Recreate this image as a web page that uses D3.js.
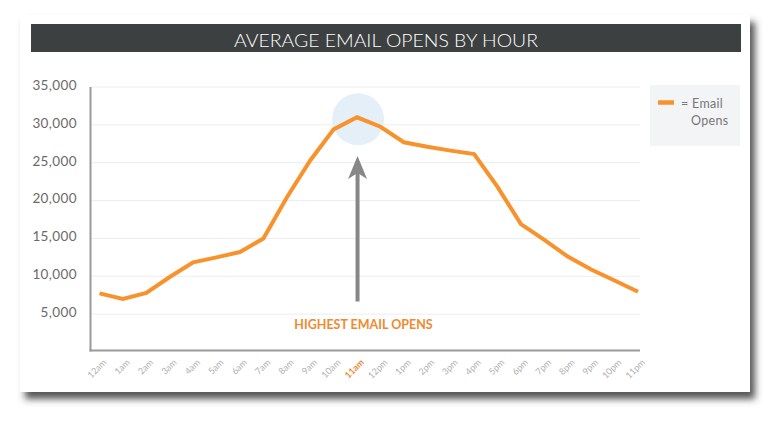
<!DOCTYPE html>
<html>
<head>
<meta charset="utf-8">
<script src="https://cdn.jsdelivr.net/npm/d3@7"></script>
<style>
  html, body { margin: 0; padding: 0; background: #ffffff; }
  svg { display: block; }
</style>
</head>
<body>
<svg id="chart" width="770" height="424"></svg>
<script>
const title = "AVERAGE EMAIL OPENS BY HOUR";
const hours = ["12am","1am","2am","3am","4am","5am","6am","7am","8am","9am","10am","11am",
               "12pm","1pm","2pm","3pm","4pm","5pm","6pm","7pm","8pm","9pm","10pm","11pm"];
const emailOpens = [7750, 7000, 7800, 9900, 11850, 12500, 13200, 15000, 20400, 25300, 29400, 31000,
                    29750, 27700, 27100, 26600, 26150, 21800, 16900, 14800, 12600, 10900, 9450, 7950];
const yTicks = [5000, 10000, 15000, 20000, 25000, 30000, 35000];
const seriesName = ["= Email", "Opens"];
const peakHour = "11am";
const annotation = "HIGHEST EMAIL OPENS";

const orange = "#f7922d";
const svg = d3.select("#chart");
const font = "Lato, 'Open Sans', sans-serif";

// drop shadow
const defs = svg.append("defs");
const f = defs.append("filter").attr("id", "shadow").attr("x", "-5%").attr("y", "-5%").attr("width", "115%").attr("height", "120%");
f.append("feDropShadow").attr("dx", 5).attr("dy", 7).attr("stdDeviation", 3.5)
  .attr("flood-color", "#3a3a3a").attr("flood-opacity", 0.85);

// card
svg.append("rect").attr("x", 20).attr("y", 15).attr("width", 730).attr("height", 377)
  .attr("fill", "#ffffff").attr("filter", "url(#shadow)");

// title bar
svg.append("rect").attr("x", 31).attr("y", 24).attr("width", 710).attr("height", 28)
  .attr("fill", "#3c4040");
svg.append("text").attr("x", 386).attr("y", 46.5).attr("text-anchor", "middle")
  .attr("font-family", font).attr("font-weight", 300).attr("font-size", 17)
  .attr("fill", "#ffffff").attr("textLength", 304).attr("lengthAdjust", "spacingAndGlyphs")
  .text(title);

// scales
const x = d3.scalePoint().domain(hours).range([99.5, 638]);
const y = d3.scaleLinear().domain([0, 35000]).range([352, 87]);
const plotLeft = 91, plotRight = 640;

// gridlines
svg.append("g").selectAll("line").data(yTicks).join("line")
  .attr("x1", plotLeft).attr("x2", plotRight)
  .attr("y1", d => y(d)).attr("y2", d => y(d))
  .attr("stroke", "#ededed").attr("stroke-width", 1);

// y axis labels
const yAxis = d3.axisLeft(y).tickValues(yTicks).tickFormat(d3.format(",")).tickSize(0).tickPadding(0);
const gy = svg.append("g").attr("transform", "translate(77,-2)").call(yAxis);
gy.select(".domain").remove();
gy.selectAll("text").attr("font-family", font).attr("font-size", 13.5)
  .attr("fill", "#6a6a6a").attr("letter-spacing", 0.4);

// axes lines
svg.append("line").attr("x1", 90.5).attr("x2", 90.5).attr("y1", 87).attr("y2", 351.5)
  .attr("stroke", "#9a9a9a").attr("stroke-width", 2);
svg.append("line").attr("x1", 89.5).attr("x2", plotRight).attr("y1", 350.5).attr("y2", 350.5)
  .attr("stroke", "#9a9a9a").attr("stroke-width", 2);

// x labels
const gx = svg.append("g").attr("transform", "translate(0,350)");
const xAxis = d3.axisBottom(x).tickSize(0).tickPadding(0);
gx.call(xAxis);
gx.select(".domain").remove();
gx.selectAll("text")
  .attr("font-family", font).attr("font-size", 9)
  .attr("fill", d => d === peakHour ? "#ef8a2f" : "#b0b0b0")
  .attr("font-weight", d => d === peakHour ? 700 : 400)
  .attr("text-anchor", "end").attr("dy", null).attr("y", 0)
  .attr("transform", "translate(7,13) rotate(-45)");

// highlight circle
svg.append("circle").attr("cx", x(peakHour) + 1).attr("cy", y(d3.max(emailOpens)) + 2).attr("r", 26)
  .attr("fill", "#e5eff8");

// line
const line = d3.line().x((d, i) => x(hours[i])).y(d => y(d));
svg.append("path").datum(emailOpens).attr("d", line)
  .attr("fill", "none").attr("stroke", orange).attr("stroke-width", 4)
  .attr("stroke-linejoin", "miter").attr("stroke-linecap", "butt");

// arrow
const ax = x(peakHour) + 0.5;
svg.append("line").attr("x1", ax).attr("x2", ax).attr("y1", 301.5).attr("y2", 172)
  .attr("stroke", "#878787").attr("stroke-width", 4);
svg.append("path")
  .attr("d", `M${ax},156 L${ax + 9.5},179 L${ax},173 L${ax - 9.5},179 Z`)
  .attr("fill", "#878787");

svg.append("text").attr("x", 363.5).attr("y", 328.5).attr("text-anchor", "middle")
  .attr("font-family", font).attr("font-weight", 700).attr("font-size", 12.5)
  .attr("fill", "#ef8a2f").text(annotation);

// legend
svg.append("rect").attr("x", 650).attr("y", 85).attr("width", 90).attr("height", 61)
  .attr("fill", "#f3f4f6");
svg.append("line").attr("x1", 658).attr("x2", 674).attr("y1", 102.5).attr("y2", 102.5)
  .attr("stroke", orange).attr("stroke-width", 4.5);
svg.append("text").attr("x", 681).attr("y", 107.5)
  .attr("font-family", font).attr("font-size", 12.5).attr("fill", "#777777").attr("letter-spacing", 0.3)
  .text(seriesName[0]);
svg.append("text").attr("x", 691).attr("y", 124.5)
  .attr("font-family", font).attr("font-size", 12.5).attr("fill", "#777777").attr("letter-spacing", 0.3)
  .text(seriesName[1]);
</script>
</body>
</html>
